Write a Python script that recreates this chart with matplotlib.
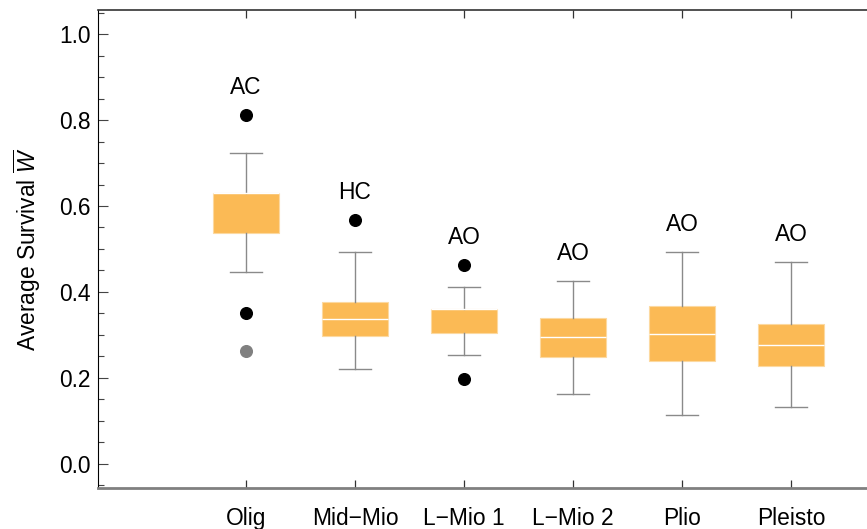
import matplotlib.pyplot as plt
from matplotlib.ticker import MultipleLocator

plt.rcParams['font.family'] = ['Liberation Sans', 'DejaVu Sans']
plt.rcParams['mathtext.fontset'] = 'custom'
plt.rcParams['mathtext.it'] = 'Liberation Sans:italic'
plt.rcParams['mathtext.rm'] = 'Liberation Sans'

# box summaries per interval
epochs = ['Olig', 'Mid\u2212Mio', 'L\u2212Mio 1', 'L\u2212Mio 2', 'Plio', 'Pleisto']
q1 = [0.538, 0.297, 0.305, 0.249, 0.238, 0.227]
med = [0.630, 0.336, 0.359, 0.295, 0.303, 0.276]
q3 = [0.630, 0.376, 0.359, 0.339, 0.367, 0.325]
whislo = [0.447, 0.220, 0.253, 0.162, 0.113, 0.131]
whishi = [0.723, 0.492, 0.412, 0.426, 0.493, 0.469]

# outliers: (epoch index, value, colour)
out_idx = [0, 0, 0, 1, 2, 2]
out_val = [0.812, 0.351, 0.262, 0.567, 0.463, 0.197]
out_col = ['black', 'black', '#808080', 'black', 'black', 'black']

# group letters above each box
groups = ['AC', 'HC', 'AO', 'AO', 'AO', 'AO']

FS = 16.4

stats = []
for i, name in enumerate(epochs):
    stats.append(dict(label=name, q1=q1[i], med=med[i], q3=q3[i],
                      whislo=whislo[i], whishi=whishi[i], fliers=[]))

fig = plt.figure(figsize=(8.67, 5.29), dpi=100)
ax = fig.add_axes([98 / 867, 41 / 529, 769 / 867, 478 / 529])

pos = list(range(1, len(epochs) + 1))
ax.bxp(stats, positions=pos, widths=0.61, capwidths=0.30, patch_artist=True,
       showfliers=False,
       boxprops=dict(facecolor='#fbba55', edgecolor='#fcd9a0', linewidth=0.8),
       medianprops=dict(color='white', linewidth=1.0),
       whiskerprops=dict(color='#8a8a8a', linewidth=1.0),
       capprops=dict(color='#8a8a8a', linewidth=1.0))

for i, v, c in zip(out_idx, out_val, out_col):
    ax.plot(pos[i], v, 'o', color=c, ms=8.4, zorder=3)

# label sits a fixed step above the highest point of each group
for i, g in enumerate(groups):
    top = max([whishi[i]] + [v for j, v in zip(out_idx, out_val) if j == i])
    ax.text(pos[i], top + 0.064, g, ha='center', va='center', fontsize=FS)

ax.set_xlim(-0.358, 6.697)
ax.set_ylim(-0.0566, 1.0563)
ax.set_xticks(pos)
ax.set_xticklabels(epochs, fontsize=FS)
ax.yaxis.set_major_locator(MultipleLocator(0.2))
ax.yaxis.set_minor_locator(MultipleLocator(0.05))
ax.yaxis.set_major_formatter(plt.FormatStrFormatter('%.1f'))
ax.tick_params(axis='y', which='major', direction='in', length=7, width=0.8,
               labelsize=FS, pad=5, color='#444444')
ax.tick_params(axis='y', which='minor', direction='in', length=4, width=0.8,
               color='#444444')
ax.tick_params(axis='x', which='major', direction='in', length=6, width=0.9,
               top=True, pad=14, color='#333333')

ax.set_ylabel(r'Average Survival $\overline{W}$', fontsize=FS, labelpad=12)

ax.spines['right'].set_visible(False)
ax.spines['left'].set_color('black')
ax.spines['left'].set_linewidth(0.8)
ax.spines['top'].set_color('#333333')
ax.spines['top'].set_linewidth(1.2)
ax.spines['bottom'].set_color('#808080')
ax.spines['bottom'].set_linewidth(2.0)

fig.savefig('out.png', dpi=100)
